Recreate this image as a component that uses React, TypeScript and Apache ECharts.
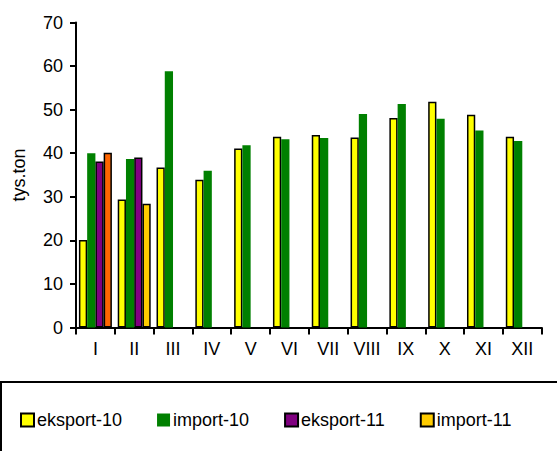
import React, { useEffect, useRef } from "react";
import * as echarts from "echarts";

const months = ["I", "II", "III", "IV", "V", "VI", "VII", "VIII", "IX", "X", "XI", "XII"];
const eksport10 = [20.1, 29.4, 36.7, 33.9, 41.1, 43.8, 44.2, 43.6, 48.1, 51.8, 48.8, 43.8];
const import10 = [40.0, 38.7, 58.8, 36.0, 41.8, 43.2, 43.5, 49.0, 51.3, 47.9, 45.2, 42.8];
const eksport11 = [38.1, 39.0, null, null, null, null, null, null, null, null, null, null];
const import11 = [40.1, 28.4, null, null, null, null, null, null, null, null, null, null];
const yTicks = [0, 10, 20, 30, 40, 50, 60, 70];

const FONT = "'Liberation Sans', Arial, sans-serif";

export default function App() {
  const ref = useRef<HTMLDivElement>(null);
  useEffect(() => {
    if (!ref.current) return;
    const chart = echarts.init(ref.current, null, { renderer: "svg" });
    const import11Data = import11.map((v, i) =>
      i === 0 ? { value: v, itemStyle: { color: "#FF6600" } } : v
    );
    chart.setOption({
      animation: false,
      textStyle: { fontFamily: FONT },
      grid: { left: 76, right: 15.3, top: 22.5, bottom: 123.5, containLabel: false },
      legend: {
        left: 15,
        top: 406,
        icon: "rect",
        itemWidth: 13,
        itemHeight: 13,
        itemGap: 35,
        textStyle: { fontSize: 18, color: "#000", fontFamily: FONT, padding: [0, 0, 0, -2] },
        data: ["eksport-10", "import-10", "eksport-11", "import-11"],
      },
      xAxis: {
        type: "category",
        data: months,
        axisLine: { lineStyle: { color: "#000", width: 2 } },
        axisTick: { show: true, length: 7, lineStyle: { color: "#000", width: 2 } },
        axisLabel: { fontSize: 18, color: "#000", margin: 12, fontFamily: FONT },
      },
      yAxis: {
        type: "value",
        min: yTicks[0],
        max: yTicks[yTicks.length - 1],
        interval: 10,
        name: "tys.ton",
        nameLocation: "middle",
        nameGap: 48,
        nameTextStyle: { fontSize: 18, color: "#000", fontFamily: FONT },
        axisLine: { show: true, lineStyle: { color: "#000", width: 2 } },
        axisTick: { show: true, length: 6, lineStyle: { color: "#000", width: 2 } },
        axisLabel: { fontSize: 18, color: "#000", margin: 13, fontFamily: FONT },
        splitLine: { show: false },
      },
      series: [
        {
          name: "eksport-10",
          type: "bar",
          data: eksport10,
          barGap: "0%",
          barCategoryGap: "15%",
          itemStyle: { color: "#FFFF00", borderColor: "#000", borderWidth: 1.5 },
        },
        {
          name: "import-10",
          type: "bar",
          data: import10,
          itemStyle: { color: "#008000", borderWidth: 0 },
        },
        {
          name: "eksport-11",
          type: "bar",
          data: eksport11,
          itemStyle: { color: "#800080", borderColor: "#000", borderWidth: 1.5 },
        },
        {
          name: "import-11",
          type: "bar",
          data: import11Data,
          itemStyle: { color: "#FFCC00", borderColor: "#000", borderWidth: 1.5 },
        },
      ],
      graphic: [
        {
          type: "rect",
          shape: { x: 1, y: 382, width: 600, height: 100 },
          style: { fill: "none", stroke: "#000", lineWidth: 2 },
          silent: true,
        },
      ],
    });
    return () => chart.dispose();
  }, []);
  return <div ref={ref} style={{ width: 557, height: 451, position: "absolute", left: 0, top: 0 }} />;
}
